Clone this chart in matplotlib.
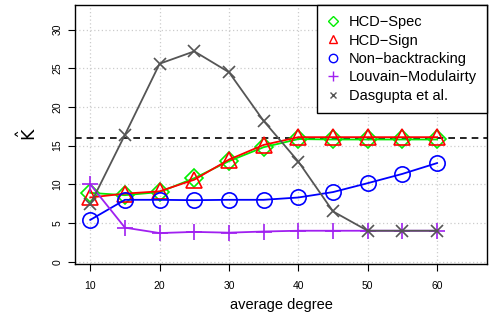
import numpy as np
import matplotlib
matplotlib.use('Agg')
import matplotlib.pyplot as plt
from matplotlib.lines import Line2D

plt.rcParams['font.family'] = ['Liberation Sans', 'DejaVu Sans']

degree = [10, 15, 20, 25, 30, 35, 40, 45, 50, 55, 60]
hcd_spec = [8.9, 8.6, 9.0, 10.8, 13.0, 14.8, 15.85, 15.8, 15.8, 15.8, 15.8]
hcd_sign = [8.3, 8.8, 9.1, 10.6, 13.2, 15.1, 16.1, 16.1, 16.1, 16.1, 16.1]
non_backtracking = [5.4, 8.0, 8.0, 7.95, 8.0, 8.0, 8.3, 9.0, 10.15, 11.35, 12.75]
louvain = [10.0, 4.4, 3.7, 3.85, 3.75, 3.9, 4.0, 4.0, 4.0, 4.0, 4.0]
dasgupta = [7.4, 16.4, 25.6, 27.2, 24.5, 18.2, 12.95, 6.5, 4.0, 4.0, 4.0]
true_k = 16

series = [
    ('HCD\u2212Spec', hcd_spec, '#00ee00', 'D', 9.5),
    ('HCD\u2212Sign', hcd_sign, 'red', '^', 11),
    ('Non\u2212backtracking', non_backtracking, 'blue', 'o', 11),
    ('Louvain\u2212Modulairty', louvain, '#a020f0', '+', 12),
    ('Dasgupta et al.', dasgupta, '#555555', 'x', 9),
]

fig = plt.figure(figsize=(4.92, 3.21), dpi=100)
ax = fig.add_axes([0.1524, 0.1776, 0.8374, 0.807])

ax.set_xlim(7.8, 67.2)
ax.set_ylim(-0.3, 33.2)
ax.set_xticks(range(10, 61, 10))
ax.set_yticks(range(0, 31, 5))
ax.grid(True, color='#cccccc', ls=(0, (1, 2)), lw=0.9)
ax.set_axisbelow(True)

ax.axhline(true_k, color='black', ls=(0, (4, 3)), lw=1.2, zorder=1)

handles = []
for label, vals, col, mk, ms in series:
    ax.plot(degree, vals, color=col, lw=1.3, marker=mk, ms=ms,
            mfc='none', mec=col, mew=1.2, zorder=2)
    handles.append(Line2D([], [], ls='none', marker=mk, color=col, mfc='none',
                          mec=col, ms=ms * 0.55, mew=1.0, label=label))

for sp in ax.spines.values():
    sp.set_linewidth(1.0)
ax.tick_params(direction='out', length=5, width=0.8, labelsize=7.5)
ax.tick_params(axis='y', pad=4)
ax.tick_params(axis='x', pad=7)
for t in ax.get_yticklabels():
    t.set_rotation(90)
    t.set_va('center')

ax.set_xlabel('average degree', fontsize=10.5, labelpad=5)
ax.set_ylabel(r'$\hat{\mathsf{K}}$', fontsize=12.5, labelpad=10)

leg = ax.legend(handles=handles, loc='upper right', fontsize=10.5,
                borderaxespad=0, fancybox=False, framealpha=1,
                edgecolor='black', handlelength=0.8, handletextpad=0.7,
                labelspacing=0.3, borderpad=0.7)
leg.get_frame().set_linewidth(1.0)

fig.savefig('out.png', dpi=100)
